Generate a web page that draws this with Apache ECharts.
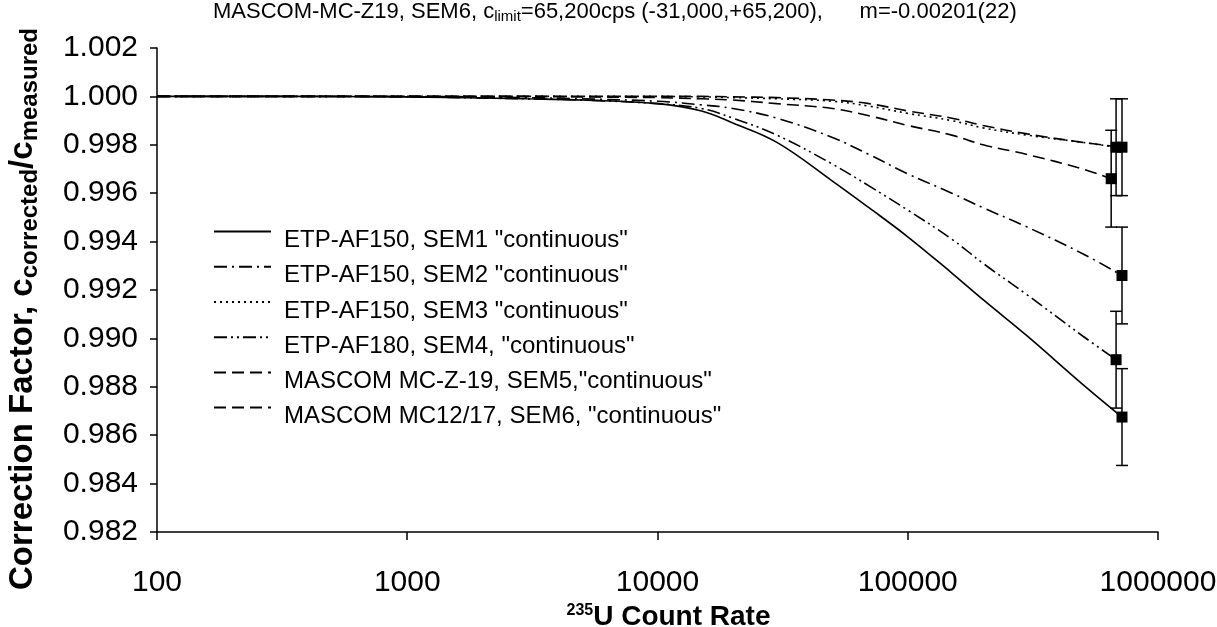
<!DOCTYPE html>
<html>
<head>
<meta charset="utf-8">
<script src="https://cdn.jsdelivr.net/npm/echarts@6/dist/echarts.min.js"></script>
<style>
html,body{margin:0;padding:0;background:#fff;}
#chart{width:1217px;height:627px;}
</style>
</head>
<body>
<div id="chart"></div>
<script>
// ---- data ----
const seriesNames = [
  'ETP-AF150, SEM1 "continuous"',
  'ETP-AF150, SEM2 "continuous"',
  'ETP-AF150, SEM3 "continuous"',
  'ETP-AF180, SEM4, "continuous"',
  'MASCOM MC-Z-19, SEM5,"continuous"',
  'MASCOM MC12/17, SEM6, "continuous"'
];
const countRate = [100, 300, 1000, 3000, 5000, 10000, 15000, 20000, 30000, 50000, 70000, 100000, 150000, 200000, 300000, 500000];
const sem1 = [1.0000, 1.0000, 0.99998, 0.9999, 0.99985, 0.9997, 0.9994, 0.9989, 0.9981, 0.9965, 0.9954, 0.9942, 0.9927, 0.9916, 0.9901, 0.9881];
const sem2 = [1.0000, 1.0000, 1.0000, 0.99995, 0.9999, 0.9998, 0.99965, 0.9995, 0.9991, 0.9983, 0.9976, 0.9968, 0.9960, 0.9954, 0.9946, 0.9935];
const sem3 = [1.0000, 1.0000, 1.0000, 1.0000, 1.0000, 1.0000, 0.99998, 0.99995, 0.9999, 0.9998, 0.9996, 0.9993, 0.9990, 0.9987, 0.9984, 0.9981];
const sem4 = [1.0000, 1.0000, 0.99998, 0.9999, 0.99985, 0.9997, 0.9995, 0.9991, 0.9984, 0.9972, 0.9963, 0.9953, 0.9941, 0.9931, 0.9918, 0.9901];
const sem5 = [1.0000, 1.0000, 1.0000, 1.0000, 0.99998, 0.99995, 0.9999, 0.99985, 0.9997, 0.9995, 0.9992, 0.9988, 0.9984, 0.9980, 0.9976, 0.9970];
const sem6 = [1.0000, 1.0000, 1.0000, 1.0000, 1.0000, 1.0000, 1.0000, 0.99998, 0.99995, 0.99985, 0.9997, 0.9994, 0.9991, 0.9988, 0.99845, 0.9981];
// measured end points (count rate, correction factor, uncertainty)
const endCount = [718000, 718000, 680000, 680000, 650000, 718000];
const endValue = [0.98675, 0.9926, 0.9979, 0.98912, 0.9966, 0.9979];
const endError = [0.002, 0.002, 0.002, 0.002, 0.002, 0.002];
const yTicks = {min: 0.982, max: 1.002, step: 0.002};
const xTicks = {min: 100, max: 1000000};

const curves = [sem1, sem2, sem3, sem4, sem5, sem6];
const dashes = ['solid', [13, 5, 2, 5], [2, 4], [13, 4, 2, 4, 2, 4], [12, 6], [12, 6]];
const FONT = '"Liberation Sans", Arial, sans-serif';

const lineSeries = curves.map((vals, i) => ({
  name: seriesNames[i],
  type: 'line',
  symbol: 'none',
  smooth: 0.4,
  data: countRate.map((c, k) => [c, vals[k]]).concat([[endCount[i], endValue[i]]]),
  lineStyle: {color: '#000', width: 1.6, type: dashes[i]},
  itemStyle: {color: 'rgba(0,0,0,0)', borderWidth: 0},
  z: 3
}));

const markerSeries = {
  name: 'points',
  type: 'scatter',
  symbol: 'rect',
  symbolSize: 11,
  itemStyle: {color: '#000', opacity: 1},
  data: endCount.map((c, i) => [c, endValue[i]]),
  z: 5
};

const errorSeries = {
  name: 'errors',
  type: 'custom',
  renderItem: function (params, api) {
    const lo = api.coord([api.value(0), api.value(2)]);
    const hi = api.coord([api.value(0), api.value(3)]);
    const w = 6;
    const st = {stroke: '#000', lineWidth: 1.5};
    return {
      type: 'group',
      children: [
        {type: 'line', shape: {x1: lo[0], y1: lo[1], x2: hi[0], y2: hi[1]}, style: st},
        {type: 'line', shape: {x1: lo[0] - w, y1: lo[1], x2: lo[0] + w, y2: lo[1]}, style: st},
        {type: 'line', shape: {x1: hi[0] - w, y1: hi[1], x2: hi[0] + w, y2: hi[1]}, style: st}
      ]
    };
  },
  encode: {x: 0, y: [1, 2, 3]},
  data: endCount.map((c, i) => [c, endValue[i], endValue[i] - endError[i], endValue[i] + endError[i]]),
  z: 4
};

const chart = echarts.init(document.getElementById('chart'), null, {renderer: 'canvas'});
chart.setOption({
  animation: false,
  backgroundColor: '#fff',
  title: {
    text: '{n|MASCOM-MC-Z19, SEM6, c}{s|limit}{n|=65,200cps (-31,000,+65,200),      m=-0.00201(22)}',
    left: 213,
    top: -1,
    padding: 0,
    textStyle: {
      rich: {
        n: {fontSize: 22, fontFamily: FONT, color: '#000', fontWeight: 'normal'},
        s: {fontSize: 15, fontFamily: FONT, color: '#000', fontWeight: 'normal', padding: [10, 0, 0, 0]}
      }
    }
  },
  legend: {
    data: seriesNames,
    orient: 'vertical',
    left: 213,
    top: 226,
    padding: 0,
    itemGap: 8.6,
    itemWidth: 57,
    itemHeight: 14,
    itemStyle: {color: 'rgba(0,0,0,0)', borderWidth: 0},
    formatter: '{t|{name}}',
    textStyle: {
      color: '#000',
      rich: {t: {fontSize: 24, color: '#000', fontFamily: FONT, padding: [18, 0, 0, 8]}}
    }
  },
  grid: {left: 157, right: 59, top: 48, bottom: 95, containLabel: false, outerBoundsMode: 'none'},
  xAxis: {
    type: 'log',
    logBase: 10,
    min: xTicks.min,
    max: xTicks.max,
    name: '{sup|235}{b|U Count Rate}',
    nameLocation: 'middle',
    nameGap: 55,
    nameTextStyle: {
      rich: {
        sup: {fontSize: 16, fontWeight: 'bold', fontFamily: FONT, color: '#000', padding: [0, 0, 12, 22]},
        b: {fontSize: 28, fontWeight: 'bold', fontFamily: FONT, color: '#000'}
      }
    },
    axisLine: {lineStyle: {color: '#000', width: 1.5}},
    axisTick: {inside: false, length: 8, lineStyle: {color: '#000', width: 1.5}},
    minorTick: {show: false},
    splitLine: {show: false},
    axisLabel: {fontSize: 30, color: '#000', fontFamily: FONT, margin: 36, formatter: v => String(Math.round(v))}
  },
  yAxis: {
    type: 'value',
    min: yTicks.min,
    max: yTicks.max,
    interval: yTicks.step,
    name: '{b|Correction Factor, c}{s|corrected}{b|/c}{e|measured}',
    nameLocation: 'middle',
    nameRotate: 90,
    nameGap: 115,
    nameTextStyle: {
      rich: {
        b: {fontSize: 33, fontWeight: 'bold', fontFamily: FONT, color: '#000'},
        s: {fontSize: 24, fontWeight: 'bold', fontFamily: FONT, color: '#000', padding: [14, 0, 0, 0]},
        e: {fontSize: 24, fontWeight: 'bold', fontFamily: FONT, color: '#000', padding: [14, 38, 0, 0]}
      }
    },
    axisLine: {show: true, lineStyle: {color: '#000', width: 1.5}},
    axisTick: {show: true, inside: false, length: 7, lineStyle: {color: '#000', width: 1.5}},
    splitLine: {show: false},
    axisLabel: {fontSize: 30, color: '#000', fontFamily: FONT, margin: 19, formatter: v => v.toFixed(3)}
  },
  series: lineSeries.concat([errorSeries, markerSeries])
});
</script>
</body>
</html>
